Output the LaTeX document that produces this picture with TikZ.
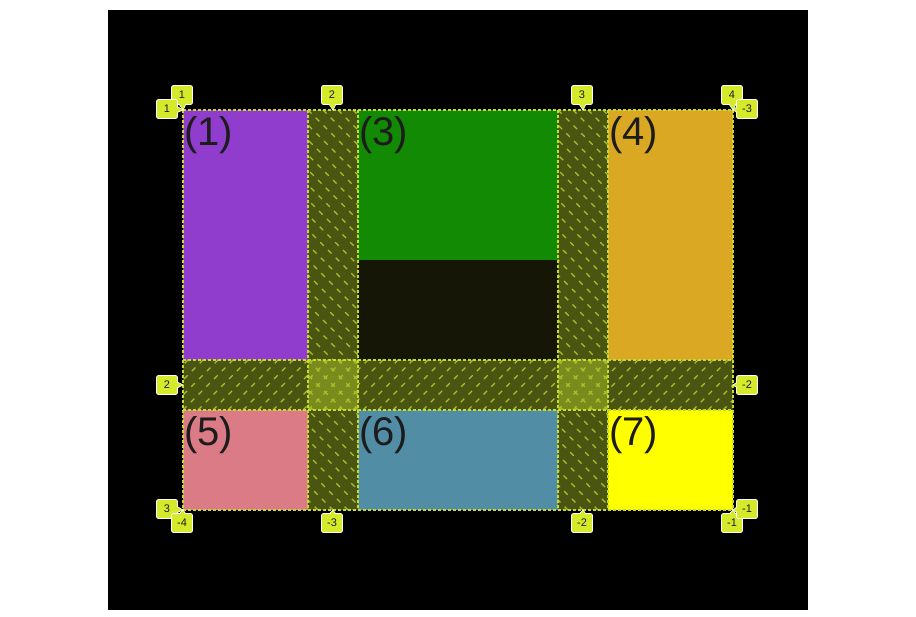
\documentclass[tikz,border=0pt]{standalone}
\usepackage{fontspec}
\setmainfont{Liberation Sans}
\usetikzlibrary{positioning,calc}
\definecolor{it1}{HTML}{903CCC}
\definecolor{it3}{HTML}{138A04}
\definecolor{it4}{HTML}{DAA822}
\definecolor{it5}{HTML}{DA7B86}
\definecolor{it6}{HTML}{528DA6}
\definecolor{it7}{HTML}{FFFF00}
\definecolor{dk}{HTML}{161607}
\definecolor{gap}{HTML}{4B5512}
\definecolor{gx}{HTML}{7A8B1D}
\definecolor{ht}{HTML}{ABC12B}
\definecolor{gl}{HTML}{C7DB2E}
\definecolor{bd}{HTML}{D5EA2B}
\definecolor{tx}{HTML}{1C1C1C}
\tikzset{
  itemlabel/.style={anchor=base west, inner sep=0pt, text=tx, font=\fontsize{40}{40}\selectfont},
  badge/.style={fill=bd, draw=white, line width=0.8pt, rounded corners=2pt, minimum width=21pt,
    minimum height=19pt, inner sep=0pt, text=tx, font=\fontsize{11}{11}\selectfont},
  tagtip/.style={fill=bd, draw=white, line width=0.8pt},
  gridline/.style={draw=gl, line width=1.3pt, dash pattern=on 3pt off 2pt},
  hatch/.style={draw=ht, line width=1.3pt, dash pattern=on 5pt off 6pt}
}
\newcommand{\hatchdown}[4]{%
  \begin{scope}
    \clip (#1,#2) rectangle (#3,#4);
    \foreach \k in {-465,-450,...,600}
      \draw[hatch] ({#1+\k},#2) -- ++(500,500);
  \end{scope}}
\newcommand{\hatchup}[4]{%
  \begin{scope}
    \clip (#1,#2) rectangle (#3,#4);
    \foreach \k in {-465,-450,...,600}
      \draw[hatch] ({#1+\k},#4) -- ++(500,-500);
  \end{scope}}
\newcommand{\gridtag}[4]{%
  \coordinate (#1t) at (#4);
  \filldraw[tagtip] ($(#2)!8pt!(#1t)!4pt!90:(#1t)$) -- (#1t) -- ($(#2)!8pt!(#1t)!4pt!-90:(#1t)$) -- cycle;
  \node[badge] (#1) at (#2) {#3};
  \fill[bd] ($(#2)!8pt!(#1t)!3.3pt!90:(#1t)$) -- ($(#1t)!1pt!(#2)$) -- ($(#2)!8pt!(#1t)!3.3pt!-90:(#1t)$) -- cycle;}

\begin{document}
\begin{tikzpicture}[x=1pt, y=-1pt]
  \fill[white] (0,0) rectangle (916,617);
  \fill[black] (108,10) rectangle (808,610);
  \fill[dk] (183,110) rectangle (733,510);
  \foreach \n/\xa/\ya/\xb/\yb/\c in {1/183/110/308/360/it1, 3/358/110/558/260/it3,
      4/608/110/733/360/it4, 5/183/410/308/510/it5, 6/358/410/558/510/it6, 7/608/410/733/510/it7}{
    \fill[\c] (\xa,\ya) rectangle (\xb,\yb);
    \node[itemlabel] (l\n) at (\xa+1,\ya+36) {(\n)};
  }
  \fill[gap] (308,110) rectangle (358,510);
  \fill[gap] (558,110) rectangle (608,510);
  \fill[gap] (183,360) rectangle (733,410);
  \hatchdown{308}{110}{358}{510}
  \hatchdown{558}{110}{608}{510}
  \hatchup{183}{360}{733}{410}
  \foreach \xa in {308,558}{
    \fill[gx] (\xa,360) rectangle (\xa+50,410);
    \hatchdown{\xa}{360}{\xa+50}{410}
    \hatchup{\xa}{360}{\xa+50}{410}
  }
  \foreach \x in {183,308,358,558,608,733}
    \draw[gridline] (\x,110) -- (\x,510);
  \foreach \y in {110,360,410,510}
    \draw[gridline] (183,\y) -- (733,\y);
  \gridtag{t1}{182,95}{1}{183,110}
  \gridtag{t2}{332,95}{2}{333,110}
  \gridtag{t3}{582,95}{3}{583,110}
  \gridtag{t4}{732,95}{4}{733,110}
  \gridtag{r1}{167,109}{1}{183,110}
  \gridtag{r2}{167,385}{2}{183,385}
  \gridtag{r3}{167,509}{3}{183,510}
  \gridtag{b4}{182,523}{-4}{183,510}
  \gridtag{b3}{332,523}{-3}{333,510}
  \gridtag{b2}{582,523}{-2}{583,510}
  \gridtag{b1}{732,523}{-1}{733,510}
  \gridtag{s3}{747,109}{-3}{733,110}
  \gridtag{s2}{747,385}{-2}{733,385}
  \gridtag{s1}{747,509}{-1}{733,510}
\end{tikzpicture}
\end{document}
